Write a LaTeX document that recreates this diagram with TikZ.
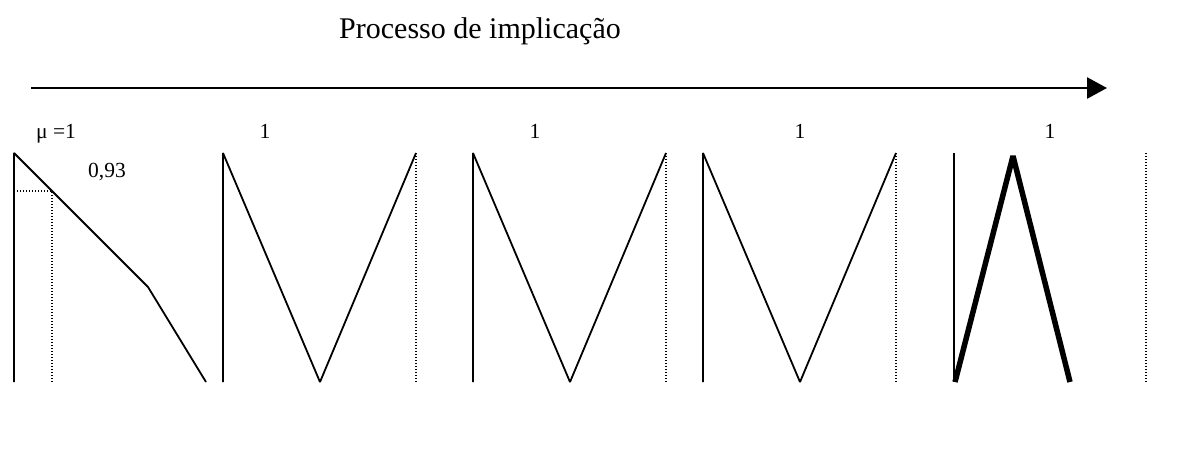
\documentclass[tikz,border=0pt]{standalone}
\usepackage{fontspec}
\setmainfont{Liberation Serif}
\usetikzlibrary{arrows.meta}
\begin{document}
\begin{tikzpicture}[x=1pt,y=-1pt,
  solid line/.style={line width=1.8pt, line join=bevel},
  dot line/.style={line width=1.6pt, dash pattern=on 1.4pt off 1.6pt},
  bold line/.style={line width=5.5pt, line join=bevel},
  lbl/.style={inner sep=0pt, anchor=base, font=\fontsize{21.5}{25}\selectfont},
  title/.style={inner sep=0pt, anchor=base, font=\fontsize{30}{36}\selectfont}]
\useasboundingbox (0,0) rectangle (1199,459);
% title
\node[title] (ttl) at (480,38) {Processo de implicação};
% arrow
\coordinate (a0) at (31,88);
\coordinate (a1) at (1107,88);
\draw[line width=2.6pt, -{Triangle[length=20pt,width=21pt]}] (a0) -- (a1);
% labels
\node[lbl, anchor=base west] (mu) at (36,138) {μ =1};
\node[lbl] (l2) at (265,138) {1};
\node[lbl] (l3) at (535,138) {1};
\node[lbl] (l4) at (800,138) {1};
\node[lbl] (l5) at (1050,138) {1};
\node[lbl] (v93) at (107,177) {0,93};
% panel 1
\coordinate (p1t) at (14,153);
\coordinate (p1b) at (14,382);
\coordinate (p1k) at (148,287);
\coordinate (p1e) at (206,382);
\coordinate (p1h) at (14,191);
\coordinate (p1c) at (52,191);
\coordinate (p1d) at (52,382);
\draw[solid line] (p1b) -- (p1t) -- (p1k) -- (p1e);
\draw[dot line] (p1h) -- (p1c) -- (p1d);
% panel 2
\coordinate (p2t) at (223,153);
\coordinate (p2b) at (223,382);
\coordinate (p2v) at (320,382);
\coordinate (p2r) at (416,153);
\coordinate (p2rb) at (416,382);
\draw[solid line] (p2b) -- (p2t) -- (p2v) -- (p2r);
\draw[dot line] (p2r) -- (p2rb);
% panel 3
\coordinate (p3t) at (473,153);
\coordinate (p3b) at (473,382);
\coordinate (p3v) at (570,382);
\coordinate (p3r) at (666,153);
\coordinate (p3rb) at (666,382);
\draw[solid line] (p3b) -- (p3t) -- (p3v) -- (p3r);
\draw[dot line] (p3r) -- (p3rb);
% panel 4
\coordinate (p4t) at (703,153);
\coordinate (p4b) at (703,382);
\coordinate (p4v) at (800,382);
\coordinate (p4r) at (896,153);
\coordinate (p4rb) at (896,382);
\draw[solid line] (p4b) -- (p4t) -- (p4v) -- (p4r);
\draw[dot line] (p4r) -- (p4rb);
% panel 5
\coordinate (p5t) at (954,153);
\coordinate (p5b) at (954,382);
\coordinate (p5l) at (955,382);
\coordinate (p5p) at (1013,156);
\coordinate (p5r) at (1070,382);
\coordinate (p5dt) at (1146,153);
\coordinate (p5db) at (1146,382);
\draw[solid line] (p5b) -- (p5t);
\draw[bold line] (p5l) -- (p5p) -- (p5r);
\draw[dot line] (p5dt) -- (p5db);
\end{tikzpicture}
\end{document}
